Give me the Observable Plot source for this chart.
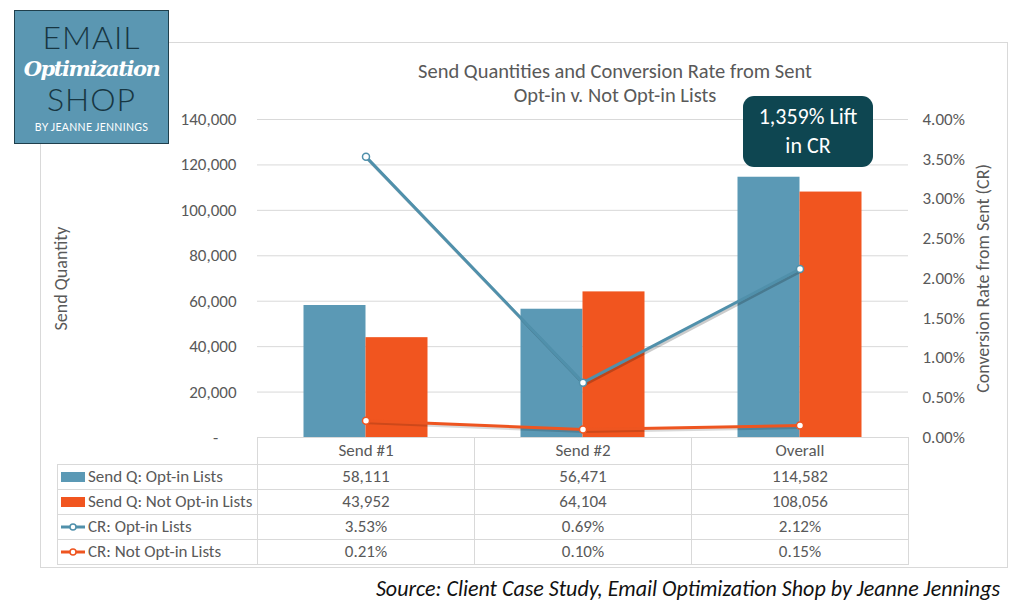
<!DOCTYPE html>
<html>
<head>
<meta charset="utf-8">
<script src="https://cdn.jsdelivr.net/npm/d3@7"></script>
<script src="https://cdn.jsdelivr.net/npm/@observablehq/plot@0.6"></script>
<style>
  body { margin: 0; background: #fff; }
  #wrap { position: relative; width: 1024px; height: 611px; overflow: hidden;
          font-family: Carlito, Lato, "Open Sans", sans-serif; color: #595959; background: #fff; }
  #frame { position: absolute; left: 40px; top: 42px; width: 968px; height: 526px; border: 1px solid #d9d9d9; box-sizing: border-box; }
  #chart { position: absolute; left: 0; top: 0; }
  #title { position: absolute; left: 215px; top: 59px; width: 800px; text-align: center; font-size: 20.5px; line-height: 24px; color: #595959; }
  #callout { position: absolute; left: 743px; top: 96px; width: 130px; height: 71px; border-radius: 11px; background: #0e4651;
             color: #fff; font-size: 22px; line-height: 29px; text-align: center; box-sizing: border-box; padding-top: 6px; }
  #logo { position: absolute; left: 14px; top: 10px; width: 155px; height: 134px; background: #5b97b2; border: 1px solid #1f3f4c;
          box-sizing: border-box; text-align: center; overflow: hidden; }
  #logo .big { position: absolute; left: 0; width: 100%; font-size: 32px; line-height: 34px; font-weight: 300; color: #173642; letter-spacing: 1px; font-family: Lato, sans-serif; }
  #logo .script { position: absolute; left: 0; width: 100%; top: 45px; font-size: 21px; line-height: 26px; color: #fff; font-style: italic; font-weight: bold; font-family: "DejaVu Serif", serif; letter-spacing: -1.5px; }
  #logo .by { position: absolute; left: 0; width: 100%; top: 110px; font-size: 10.5px; line-height: 12px; color: #fff; letter-spacing: 0.3px; font-family: Lato, sans-serif; }
  #table { position: absolute; left: 57px; top: 437px; border-collapse: collapse; table-layout: fixed; font-size: 17px; color: #595959; }
  #table td { border: 1px solid #d9d9d9; text-align: center; padding: 0; height: 24px; line-height: 20px; white-space: nowrap; }
  #table tr.head td { height: 26px; }
  #table td.blank { border: none; }
  #table td.name { text-align: left; padding-left: 3px; }
  #table td.name svg { vertical-align: middle; margin-right: 3px; position: relative; top: -1px; }
  #source { position: absolute; right: 24px; top: 575px; font-size: 22px; font-style: italic; color: #111; }
</style>
</head>
<body>
<div id="wrap">
  <div id="frame"></div>
  <div id="title">Send Quantities and Conversion Rate from Sent<br>Opt-in v. Not Opt-in Lists</div>
  <div id="logo">
    <div class="big" style="top:9px">EMAIL</div>
    <div class="script">Optimization</div>
    <div class="big" style="top:71px">SHOP</div>
    <div class="by">BY JEANNE JENNINGS</div>
  </div>
  <div id="source">Source: Client Case Study, Email Optimization Shop by Jeanne Jennings</div>
</div>
<script>
// Categories and series
const categories = ["Send #1", "Send #2", "Overall"];
const sendOptIn = [58111, 56471, 114582];
const sendNotOptIn = [43952, 64104, 108056];
const crOptIn = [0.0353, 0.0069, 0.0212];
const crNotOptIn = [0.0021, 0.0010, 0.0015];
const seriesNames = ["Send Q: Opt-in Lists", "Send Q: Not Opt-in Lists", "CR: Opt-in Lists", "CR: Not Opt-in Lists"];

// Axis ticks
const qtyTicks = [0, 20000, 40000, 60000, 80000, 100000, 120000, 140000];
const crTicks = [0, 0.005, 0.01, 0.015, 0.02, 0.025, 0.03, 0.035, 0.04];

// Callout text
const calloutLines = ["1,359% Lift", "in CR"];

const BLUE = "#5b99b5";
const ORANGE = "#f1551f";
const LINE_BLUE = "#5090ab";
const LINE_ORANGE = "#ee5520";

// conversion rates share the quantity axis: 4.00% lines up with 140,000
const K = qtyTicks[qtyTicks.length - 1] / crTicks[crTicks.length - 1];

const rows = categories.map((c, i) => ({
  cat: c,
  optIn: sendOptIn[i],
  notOptIn: sendNotOptIn[i],
  crOpt: crOptIn[i] * K,
  crNot: crNotOptIn[i] * K
}));

const fmtQty = d3.format(",");
const fmtPct = v => (v * 100).toFixed(2) + "%";

const chart = Plot.plot({
  width: 1024,
  height: 445,
  marginTop: 119,
  marginBottom: 8,
  marginLeft: 257,
  marginRight: 116,
  style: { fontFamily: "Carlito, Lato, 'Open Sans', sans-serif", fontSize: "17px", color: "#595959", background: "transparent", overflow: "visible" },
  x: { domain: categories, padding: 0, axis: null },
  y: { domain: [0, 140000] },
  marks: [
    Plot.gridY(qtyTicks, { stroke: "#d9d9d9", strokeOpacity: 1 }),
    Plot.axisY(qtyTicks, {
      anchor: "left", tickSize: 0, tickPadding: 21, fontSize: 17,
      tickFormat: d => d === 0 ? "-\u2007\u2007" : fmtQty(d),
      label: null
    }),
    Plot.axisY(crTicks.map(v => v * K), {
      anchor: "right", tickSize: 0, tickPadding: 14, fontSize: 17,
      tickFormat: v => fmtPct(v / K),
      label: null
    }),
    Plot.axisY({
      anchor: "left", ticks: [], tickSize: 0,
      label: "Send Quantity", labelAnchor: "center", labelOffset: 203, labelArrow: "none", fontSize: 18
    }),
    Plot.axisY({
      anchor: "right", ticks: [], tickSize: 0,
      label: "Conversion Rate from Sent (CR)", labelAnchor: "center", labelOffset: 80, labelArrow: "none", fontSize: 18
    }),
    Plot.barY(rows, { x: "cat", y: "optIn", fill: BLUE, insetLeft: 46.5, insetRight: 108.5 }),
    Plot.barY(rows, { x: "cat", y: "notOptIn", fill: ORANGE, insetLeft: 108.5, insetRight: 46.5 }),
    // soft drop shadows under the rate lines
    Plot.line(rows, { x: "cat", y: "crOpt", stroke: "#000", strokeOpacity: 0.2, strokeWidth: 3, dx: 1.5, dy: 2 }),
    Plot.line(rows, { x: "cat", y: "crNot", stroke: "#000", strokeOpacity: 0.15, strokeWidth: 3, dx: 1.5, dy: 2 }),
    Plot.line(rows, { x: "cat", y: "crOpt", stroke: LINE_BLUE, strokeWidth: 3 }),
    Plot.line(rows, { x: "cat", y: "crNot", stroke: LINE_ORANGE, strokeWidth: 3 }),
    Plot.dot(rows, { x: "cat", y: "crOpt", r: 3.5, fill: "#fff", stroke: LINE_BLUE, strokeWidth: 1.5 }),
    Plot.dot(rows, { x: "cat", y: "crNot", r: 3.5, fill: "#fff", stroke: LINE_ORANGE, strokeWidth: 1.5 })
  ]
});
chart.id = "chart";
const wrap = document.getElementById("wrap");
wrap.insertBefore(chart, document.getElementById("title"));

// callout
const callout = document.createElement("div");
callout.id = "callout";
callout.innerHTML = calloutLines.join("<br>");
wrap.appendChild(callout);

// data table beneath the plot, columns aligned with the x bands
const swatchBar = c => `<svg width="24" height="10"><rect x="0" y="0" width="24" height="10" fill="${c}"/></svg>`;
const swatchLine = c => `<svg width="24" height="10"><line x1="0" x2="24" y1="5" y2="5" stroke="${c}" stroke-width="3"/><circle cx="12" cy="5" r="3" fill="#fff" stroke="${c}" stroke-width="1.5"/></svg>`;
const tableRows = [
  { name: seriesNames[0], sw: swatchBar(BLUE), vals: sendOptIn.map(fmtQty) },
  { name: seriesNames[1], sw: swatchBar(ORANGE), vals: sendNotOptIn.map(fmtQty) },
  { name: seriesNames[2], sw: swatchLine(LINE_BLUE), vals: crOptIn.map(fmtPct) },
  { name: seriesNames[3], sw: swatchLine(LINE_ORANGE), vals: crNotOptIn.map(fmtPct) }
];
const xs = d3.scaleBand().domain(categories).range([257, 908]);
const colW = categories.map(c => xs.bandwidth());
let html = `<colgroup><col style="width:${257 - 57}px">${colW.map(w => `<col style="width:${w}px">`).join("")}</colgroup>`;
html += `<tr class="head"><td class="blank"></td>${categories.map(c => `<td>${c}</td>`).join("")}</tr>`;
for (const r of tableRows) {
  html += `<tr><td class="name">${r.sw}${r.name}</td>${r.vals.map(v => `<td>${v}</td>`).join("")}</tr>`;
}
const table = document.createElement("table");
table.id = "table";
table.innerHTML = html;
wrap.appendChild(table);
</script>
</body>
</html>
